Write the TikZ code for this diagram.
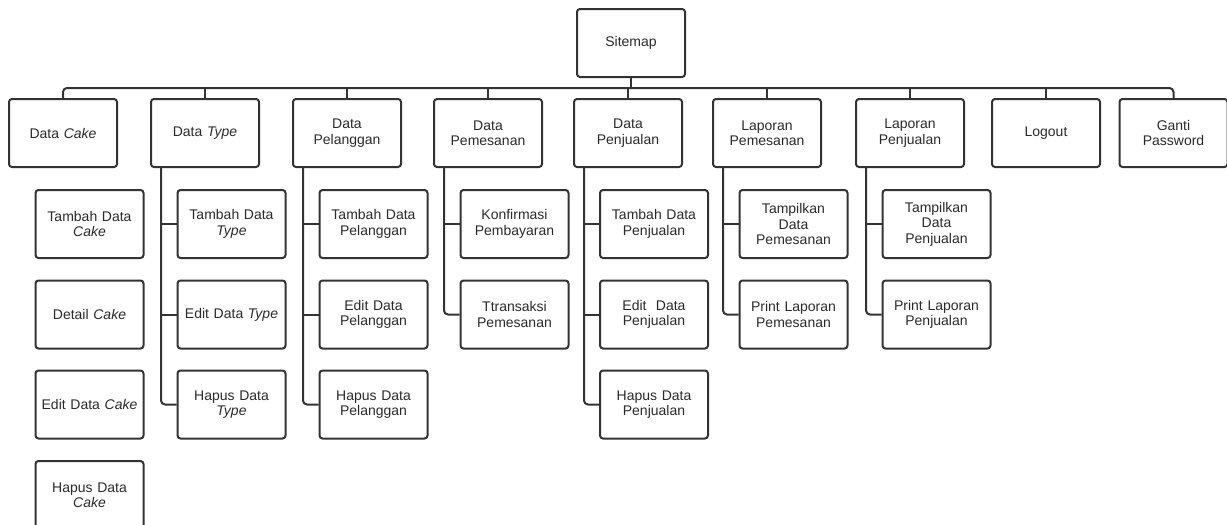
\documentclass[tikz,border=0pt]{standalone}
\usepackage{fontspec}
\setmainfont{Liberation Sans}
\begin{document}
\begin{tikzpicture}[x=1pt,y=-1pt,
  page box/.style={draw=linegray, line width=2pt, rounded corners=3pt,
    minimum width=107pt, minimum height=68pt, inner sep=1pt,
    align=center, text width=106pt, text=textgray,
    font=\fontsize{14}{15.5}\selectfont},
  link/.style={draw=linegray, line width=2pt},
  trunk/.style={draw=linegray, line width=2pt, rounded corners=4pt}]
\definecolor{linegray}{HTML}{333333}
\definecolor{textgray}{HTML}{2A2A2A}
\useasboundingbox (0,0) rectangle (1227,525);

% root
\node[page box, minimum width=106pt] (sitemap) at (631,43) {Sitemap};

% first level menu
\node[page box, minimum width=108pt] (cake) at (63,133) {Data \textit{Cake}};
\node[page box] (type) at (205,133) {Data \textit{Type}};
\node[page box] (pel) at (347,133) {Data\\Pelanggan};
\node[page box] (pem) at (488,133) {Data\\Pemesanan};
\node[page box] (pen) at (628,133) {Data\\Penjualan};
\node[page box] (lpem) at (767,133) {Laporan\\Pemesanan};
\node[page box] (lpen) at (910,133) {Laporan\\Penjualan};
\node[page box] (logout) at (1046,133) {Logout};
\node[page box, minimum width=105pt] (ganti) at (1173.5,133) {Ganti\\Password};

% Data Cake pages
\node[page box] (cake1) at (89.5,224) {Tambah Data\\\textit{Cake}};
\node[page box] (cake2) at (89.5,314.5) {Detail \textit{Cake}};
\node[page box] (cake3) at (89.5,404.5) {Edit Data \textit{Cake}};
\node[page box] (cake4) at (89.5,495) {Hapus Data\\\textit{Cake}};

% Data Type pages
\node[page box] (type1) at (231.5,224) {Tambah Data\\\textit{Type}};
\node[page box] (type2) at (231.5,314.5) {Edit Data \textit{Type}};
\node[page box] (type3) at (231.5,404.5) {Hapus Data\\\textit{Type}};

% Data Pelanggan pages
\node[page box] (pel1) at (373.5,224) {Tambah Data\\Pelanggan};
\node[page box] (pel2) at (373.5,314.5) {Edit Data\\Pelanggan};
\node[page box] (pel3) at (373.5,404.5) {Hapus Data\\Pelanggan};

% Data Pemesanan pages
\node[page box] (pem1) at (514.5,224) {Konfirmasi\\Pembayaran};
\node[page box] (pem2) at (514.5,314.5) {Ttransaksi\\Pemesanan};

% Data Penjualan pages
\node[page box] (pen1) at (654,224) {Tambah Data\\Penjualan};
\node[page box] (pen2) at (654,314.5) {Edit~ Data\\Penjualan};
\node[page box] (pen3) at (654,404.5) {Hapus Data\\Penjualan};

% Laporan Pemesanan pages
\node[page box] (lpem1) at (793.5,224) {Tampilkan\\Data\\Pemesanan};
\node[page box] (lpem2) at (793.5,314.5) {Print Laporan\\Pemesanan};

% Laporan Penjualan pages
\node[page box] (lpen1) at (936.5,224) {Tampilkan\\Data\\Penjualan};
\node[page box] (lpen2) at (936.5,314.5) {Print Laporan\\Penjualan};

% bus from the root to the first level
\coordinate (bus) at (0,88);
\draw[link] (sitemap.south) -- (sitemap.south |- bus);
\draw[trunk] (cake.north) -- (cake.north |- bus) -- (ganti.north |- bus) -- (ganti.north);
\foreach \n in {type,pel,pem,pen,lpem,lpen,logout}
  \draw[link] (\n.north) -- (\n.north |- bus);

% trunks down to the second level
\foreach \p/\last in {type/type3, pel/pel3, pem/pem2, pen/pen3, lpem/lpem2, lpen/lpen2} {
  \coordinate (\p-t) at ([xshift=11pt]\p.south west);
  \draw[trunk] (\p-t) |- (\last.west);
}
\foreach \c/\p in {type1/type, type2/type, pel1/pel, pel2/pel, pem1/pem,
                   pen1/pen, pen2/pen, lpem1/lpem, lpen1/lpen}
  \draw[link] (\c.west) -- (\c.west -| \p-t);
\end{tikzpicture}
\end{document}
